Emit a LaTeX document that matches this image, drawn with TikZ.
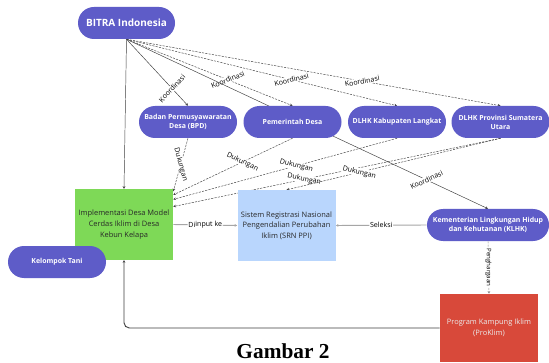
\documentclass[tikz,border=0pt]{standalone}
\usepackage{fontspec}
\setmainfont{Open Sans}
\newfontfamily\capfont{Liberation Serif}
\usetikzlibrary{arrows.meta,backgrounds}
\definecolor{pill}{RGB}{94,92,200}
\definecolor{implgreen}{RGB}{126,217,87}
\definecolor{srnblue}{RGB}{185,214,253}
\definecolor{proklimred}{RGB}{216,73,58}
\definecolor{boxtext}{RGB}{40,40,40}
\tikzset{
  pillnode/.style={fill=pill, rounded corners=12pt, minimum width=73.5pt, minimum height=24pt,
    text=white, font=\fontsize{5.2}{6.7}\selectfont\bfseries, align=center, inner sep=1pt},
  boxnode/.style={minimum width=73.5pt, minimum height=53pt, align=center, text=boxtext,
    font=\fontsize{5.6}{8}\selectfont, inner sep=1pt},
  rel/.style={draw=black!75, line width=0.35pt, -{Stealth[length=2pt,width=2pt]}},
  reldash/.style={rel, dash pattern=on 1.6pt off 0.9pt},
  lbl/.style={font=\fontsize{5.3}{6}\selectfont, fill=white, inner sep=0.4pt, sloped}
}
\begin{document}
\begin{tikzpicture}[x=0.75pt,y=0.75pt,yscale=-1,xscale=1]
\useasboundingbox (0,0) rectangle (549,363);

% Nodes: top row
\node[pillnode, minimum width=72.75pt, font=\fontsize{7.5}{9}\selectfont\bfseries] (bitra) at (126.5,23) {BITRA Indonesia};
\node[pillnode] (bpd) at (188,122) {Badan Permusyawaratan\\Desa (BPD)};
\node[pillnode] (pemdes) at (292.5,122) {Pemerintah Desa};
\node[pillnode] (kab) at (397,122) {DLHK Kabupaten Langkat};
\node[pillnode] (prov) at (500.5,122) {DLHK Provinsi Sumatera\\Utara};

% Nodes: middle and bottom
\node[boxnode, fill=implgreen] (impl) at (124,224.5) {Implementasi Desa Model\\Cerdas Iklim di Desa\\Kebun Kelapa};
\node[pillnode] (tani) at (57,262) {Kelompok Tani};
\node[boxnode, fill=srnblue] (srn) at (286.5,225.5) {Sistem Registrasi Nasional\\Pengendalian Perubahan\\Iklim (SRN PPI)};
\node[pillnode, minimum width=91.5pt] (klhk) at (488,225) {Kementerian Lingkungan Hidup\\dan Kehutanan (KLHK)};
\node[boxnode, fill=proklimred, text=white!92!black, minimum height=51pt] (proklim) at (489,328) {Program Kampung Iklim\\(ProKlim)};

\node[font=\capfont\bfseries\fontsize{16}{18}\selectfont] (caption) at (283,351) {Gambar 2};

\begin{scope}[on background layer]
\fill[white] (0,0) rectangle (549,363);
% Koordinasi
\draw[rel] (bitra.south) -- (impl.north);
\draw[rel] (bitra.south) -- node[lbl,pos=0.74]{Koordinasi} (bpd.north);
\draw[reldash] (bitra.south) -- node[lbl,pos=0.61]{Koordinasi} (pemdes.north);
\draw[reldash] (bitra.south) -- node[lbl,pos=0.61]{Koordinasi} (kab.north);
\draw[reldash] (bitra.south) -- node[lbl,pos=0.63]{Koordinasi} (prov.north);
\draw[rel] (bitra.south) -- node[lbl,pos=0.83]{Koordinasi} (klhk.north);
% Dukungan
\draw[reldash] (bpd.south) -- node[lbl,pos=0.5]{Dukungan} (impl.34);
\draw[reldash] (pemdes.south) -- node[lbl,pos=0.42]{Dukungan} (impl.31);
\draw[reldash] (kab.south) -- node[lbl,pos=0.45]{Dukungan} (impl.27);
\draw[reldash] (prov.south) -- node[lbl,pos=0.6]{Dukungan} (impl.20);
\draw[reldash] (prov.south) -- node[lbl,pos=0.66]{Dukungan} (srn.north);
% Alur data
\draw[rel, draw=black!35, line width=0.7pt] (impl.east) -- node[lbl]{Diinput ke} (srn.west);
\draw[rel, draw=black!35, line width=0.7pt] (klhk.west) -- node[lbl]{Seleksi} (srn.east);
\draw[reldash, draw=black!45] (klhk.south) -- node[lbl, sloped=false, rotate=-90, font=\fontsize{4.6}{5}\selectfont]{Penghargaan} (proklim.north);
\draw[rel, line width=0.7pt, rounded corners=4pt] (proklim.west) -| (impl.south);
\end{scope}
\end{tikzpicture}
\end{document}
